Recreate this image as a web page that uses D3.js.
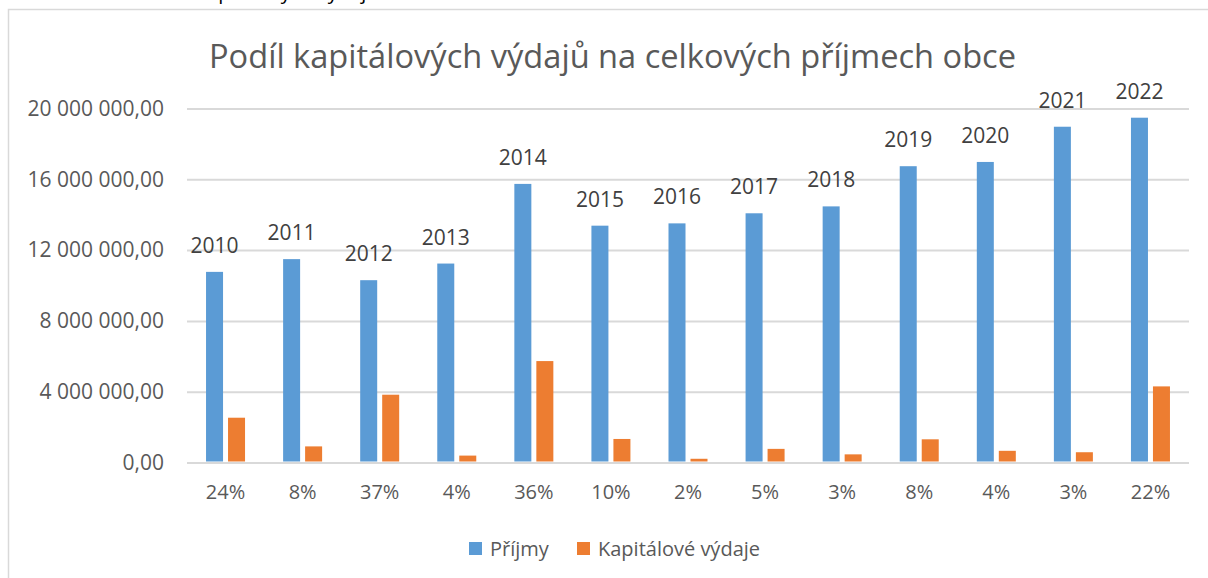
<!DOCTYPE html>
<html>
<head>
<meta charset="utf-8">
<script src="https://cdn.jsdelivr.net/npm/d3@7"></script>
<style>
  body { margin: 0; background: #fff; }
  svg { display: block; font-family: "Open Sans", "Noto Sans", sans-serif; }
</style>
</head>
<body>
<svg id="chart" width="1208" height="578"></svg>
<script>
// data
const YEARS = ['2010', '2011', '2012', '2013', '2014', '2015', '2016', '2017', '2018', '2019', '2020', '2021', '2022']
const SHARES = ['24%', '8%', '37%', '4%', '36%', '10%', '2%', '5%', '3%', '8%', '4%', '3%', '22%']
const PRIJMY = [10.77, 11.49, 10.30, 11.24, 15.74, 13.38, 13.51, 14.08, 14.47, 16.74, 16.98, 18.97, 19.48].map(v => v * 1e6)
const VYDAJE = [2.53, 0.91, 3.83, 0.39, 5.73, 1.33, 0.21, 0.77, 0.46, 1.31, 0.66, 0.58, 4.30].map(v => v * 1e6)
const SERIES = ['Příjmy', 'Kapitálové výdaje']
const Y_TICKS = [0, 4e6, 8e6, 12e6, 16e6, 20e6]

const COLORS = ['#5b9bd5', '#ed7d31']
const TEXT = '#595959'
const GRID = '#d9d9d9'

const PLOT = { left: 187, right: 1189, top: 108.5, bottom: 462.5 }
const GROUP_W = 39

const locale = d3.formatLocale({ decimal: ',', thousands: ' ', grouping: [3], currency: ['', ' Kč'] })
const fmt = locale.format(',.2f')

const svg = d3.select('#chart')

// frame of the chart object, running off the right and bottom edges
svg.append('rect')
  .attr('x', 8.5).attr('y', 9.5)
  .attr('width', 1230).attr('height', 600)
  .attr('fill', 'none').attr('stroke', GRID).attr('stroke-width', 1.5)

// caption of the document, cut off by the top edge
svg.append('text')
  .attr('x', 145).attr('y', -1.5)
  .attr('font-size', 20).attr('fill', '#000')
  .text('Podíl kapitálových výdajů na')

const x = d3.scaleBand().domain(YEARS).range([PLOT.left, PLOT.right])
const xs = d3.scaleBand().domain(SERIES).range([0, GROUP_W]).paddingInner(0.227)
const y = d3.scaleLinear().domain([0, 20e6]).range([PLOT.bottom, PLOT.top])

// gridlines + y labels
const yAxis = svg.append('g')
  .attr('transform', `translate(${PLOT.left},0)`)
  .call(d3.axisLeft(y).tickValues(Y_TICKS).tickFormat(fmt).tickSize(-(PLOT.right - PLOT.left)).tickPadding(23))
yAxis.select('.domain').remove()
yAxis.selectAll('.tick line').attr('stroke', GRID).attr('stroke-width', 2)
yAxis.selectAll('.tick text')
  .attr('fill', TEXT).attr('font-size', 21)
  .attr('font-family', '"Open Sans", sans-serif')

// x labels (shares)
const xAxis = svg.append('g')
  .attr('transform', `translate(0,${PLOT.bottom})`)
  .call(d3.axisBottom(x).tickFormat((d, i) => SHARES[i]).tickSize(0).tickPadding(22))
xAxis.select('.domain').remove()
xAxis.selectAll('.tick text')
  .attr('fill', TEXT).attr('font-size', 20)
  .attr('font-family', '"Open Sans", sans-serif')

// bars
const rows = YEARS.map((yr, i) => ({ year: yr, values: [PRIJMY[i], VYDAJE[i]] }))
const groups = svg.append('g').selectAll('g')
  .data(rows)
  .join('g')
    .attr('transform', d => `translate(${x(d.year) + (x.bandwidth() - GROUP_W) / 2},0)`)

groups.selectAll('rect')
  .data(d => d.values.map((v, k) => ({ key: SERIES[k], value: v, k })))
  .join('rect')
    .attr('x', d => xs(d.key))
    .attr('width', xs.bandwidth())
    .attr('y', d => y(d.value))
    .attr('height', d => PLOT.bottom - 1 - y(d.value))
    .attr('fill', d => COLORS[d.k])

// year labels over the income bars
groups.append('text')
  .attr('x', xs(SERIES[0]) + xs.bandwidth() / 2)
  .attr('y', d => y(d.values[0]) - 19)
  .attr('text-anchor', 'middle')
  .attr('font-size', 21).attr('fill', '#404040')
  .text(d => d.year)

// title
svg.append('text')
  .attr('x', 612.5).attr('y', 68)
  .attr('text-anchor', 'middle')
  .attr('font-size', 33).attr('fill', TEXT)
  .attr('textLength', 807).attr('lengthAdjust', 'spacingAndGlyphs')
  .text('Podíl kapitálových výdajů na celkových příjmech obce')

// legend
const legendX = [469, 577]
const legend = svg.append('g').selectAll('g')
  .data(SERIES)
  .join('g')
    .attr('transform', (d, i) => `translate(${legendX[i]},542)`)
legend.append('rect')
  .attr('width', 13).attr('height', 13)
  .attr('fill', (d, i) => COLORS[i])
legend.append('text')
  .attr('x', 21).attr('y', 13.5)
  .attr('font-size', 20).attr('fill', TEXT)
  .text(d => d)
</script>
</body>
</html>
